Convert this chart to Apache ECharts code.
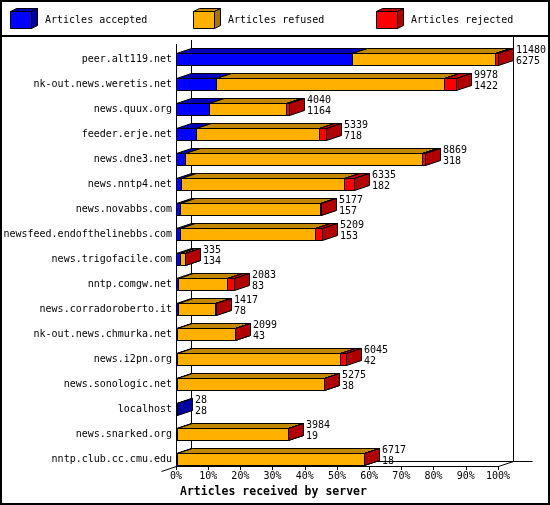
<!DOCTYPE html>
<html><head><meta charset="utf-8">
<script src="https://cdn.jsdelivr.net/npm/echarts@6/dist/echarts.min.js"></script>
<style>html,body{margin:0;padding:0;background:#fff}#c{width:550px;height:505px}</style>
</head><body><div id="c"></div>
<script>
// ---- data ----
const categories = ['peer.alt119.net','nk-out.news.weretis.net','news.quux.org','feeder.erje.net','news.dne3.net','news.nntp4.net','news.novabbs.com','newsfeed.endofthelinebbs.com','news.trigofacile.com','nntp.comgw.net','news.corradoroberto.it','nk-out.news.chmurka.net','news.i2pn.org','news.sonologic.net','localhost','news.snarked.org','nntp.club.cc.cmu.edu'];
const totals   = [11480, 9978, 4040, 5339, 8869, 6335, 5177, 5209, 335, 2083, 1417, 2099, 6045, 5275, 28, 3984, 6717];
const accepted = [6275, 1422, 1164, 718, 318, 182, 157, 153, 134, 83, 78, 43, 42, 38, 28, 19, 18];
const refused  = [5105, 8116, 2746, 4385, 8456, 5801, 4968, 4793, 196, 1752, 1319, 2052, 5818, 5233, 0, 3961, 6695];
const rejected = [100, 440, 130, 236, 95, 352, 52, 263, 5, 248, 20, 4, 185, 4, 0, 4, 4];
const seriesNames = ['Articles accepted', 'Articles refused', 'Articles rejected'];
const xTickStep = 10;
const axisTitle = 'Articles received by server';

// ---- style ----
const FONT = '"DejaVu Sans Mono", "Liberation Mono", monospace';
const DX = 15, DY = -5, HALF = 6;
const palette = [
  {front:'#0000FF', top:'#0000B8', side:'#0000A0'},
  {front:'#FFB000', top:'#C48800', side:'#A87400'},
  {front:'#FF0000', top:'#C00000', side:'#B00000'}
];
const GRID = {left:176, right:52, top:47, bottom:33};
const XOFF = -6;

const maxTotal = Math.max(...totals);
const scale = 100 / maxTotal;
const segs = [accepted, refused, rejected];
const segData = segs.map((arr, k) => categories.map((c, i) => {
  let s = 0; for (let j = 0; j < k; j++) s += segs[j][i];
  return [s * scale, (s + arr[i]) * scale, i];
}));

function segRender(col) {
  return function (params, api) {
    const s = api.value(0), e = api.value(1), i = api.value(2);
    if (!(e > s)) return null;
    const a = api.coord([s, i]), b = api.coord([e, i]);
    const x0 = Math.round(a[0]) + 0.5;
    const x1 = Math.round(b[0]) + 0.5;
    const yt = Math.floor(a[1] - HALF) + 0.5;
    const yb = yt + 2 * HALF;
    const st = c => ({fill: c, stroke: '#000', lineWidth: 1});
    return {type: 'group', children: [
      {type: 'polygon', shape: {points: [[x0, yt], [x1, yt], [x1, yb], [x0, yb]]}, style: st(col.front)},
      {type: 'polygon', shape: {points: [[x0, yt], [x1, yt], [x1 + DX, yt + DY], [x0 + DX, yt + DY]]}, style: st(col.top)},
      {type: 'polygon', shape: {points: [[x1, yt], [x1 + DX, yt + DY], [x1 + DX, yb + DY], [x1, yb]]}, style: st(col.side)}
    ]};
  };
}

const series = segData.map((d, k) => ({
  type: 'custom', name: seriesNames[k], data: d, encode: {x: [0, 1], y: 2},
  renderItem: segRender(palette[k]), clip: false, silent: true
}));
series.push({
  type: 'custom', name: 'labels', clip: false, silent: true,
  data: categories.map((c, i) => [totals[i] * scale, i, totals[i], accepted[i]]),
  encode: {x: 0, y: 1},
  renderItem: function (params, api) {
    const p = api.coord([api.value(0), api.value(1)]);
    const x = Math.round(p[0]) + DX + 3;
    const ts = (t, y) => ({type: 'text', style: {text: t, x: x, y: y, fill: '#000', fontSize: 10, fontFamily: FONT, align: 'left', verticalAlign: 'middle', textAlign: 'left', textVerticalAlign: 'middle'}});
    return {type: 'group', children: [ts(String(api.value(2)), p[1] - 9), ts(String(api.value(3)), p[1] + 2)]};
  }
});

const chart = echarts.init(document.getElementById('c'), null, {renderer: 'canvas'});
const option = {
  animation: false,
  backgroundColor: '#fff',
  grid: GRID,
  xAxis: {
    type: 'value', min: 0, max: 100, interval: xTickStep, offset: XOFF,
    axisLine: {show: true, lineStyle: {color: '#000', width: 1}},
    axisTick: {show: true, length: 4, lineStyle: {color: '#000'}},
    splitLine: {show: false},
    axisLabel: {formatter: '{value}%', color: '#000', fontSize: 10, fontFamily: FONT, margin: 5}
  },
  yAxis: {
    type: 'category', data: categories, inverse: true,
    axisLine: {show: false}, axisTick: {show: false}, splitLine: {show: false},
    axisLabel: {color: '#000', fontSize: 10, fontFamily: FONT, margin: 4}
  },
  series: series
};
chart.setOption(option);

// frame & legend
const x0 = Math.round(chart.convertToPixel({xAxisIndex: 0}, 0)) + 0.5;
const x100 = Math.round(chart.convertToPixel({xAxisIndex: 0}, 100)) + 0.5;
const AY = 505 - GRID.bottom + XOFF + 0.5;
const ln = (a, b, c, d, w) => ({type: 'line', shape: {x1: a, y1: b, x2: c, y2: d}, style: {stroke: '#000', lineWidth: w || 1}, z: 0, silent: true});
const g = [
  ln(x0 + DX, 40, x0 + DX, AY + DY),
  ln(x100 + DX, 37, x100 + DX, AY + DY),
  ln(x0 + DX, AY + DY, x100 + DX + 19, AY + DY),
  ln(x0, 44, x0, AY),
  ln(x100, AY, x100 + DX, AY + DY),
  ln(x0 - DX, AY - DY, x0, AY),
  ln(0, 36, 550, 36, 2),
  {type: 'rect', shape: {x: 1, y: 1, width: 548, height: 503}, style: {fill: 'none', stroke: '#000', lineWidth: 2}, z: 10, silent: true}
];
const legX = [10, 193, 376];
seriesNames.forEach((n, k) => {
  const x = legX[k] + 0.5, y = 11.5, w = 21, h = 17, dx = 6, dy = -3;
  const st = c => ({fill: c, stroke: '#000', lineWidth: 1});
  g.push({type: 'polygon', shape: {points: [[x, y], [x + w, y], [x + w, y + h], [x, y + h]]}, style: st(palette[k].front), z: 5});
  g.push({type: 'polygon', shape: {points: [[x, y], [x + w, y], [x + w + dx, y + dy], [x + dx, y + dy]]}, style: st(palette[k].top), z: 5});
  g.push({type: 'polygon', shape: {points: [[x + w, y], [x + w + dx, y + dy], [x + w + dx, y + h + dy], [x + w, y + h]]}, style: st(palette[k].side), z: 5});
  g.push({type: 'text', style: {text: n, x: legX[k] + 35, y: 20, fill: '#000', fontSize: 10, fontFamily: FONT, align: 'left', verticalAlign: 'middle'}, z: 5});
});
g.push({type: 'text', style: {text: axisTitle, x: 180, y: 492, fill: '#000', fontSize: 11.5, fontWeight: 'bold', fontFamily: FONT, align: 'left', verticalAlign: 'middle'}, z: 5});
chart.setOption({graphic: {elements: g}});
</script>
</body></html>
